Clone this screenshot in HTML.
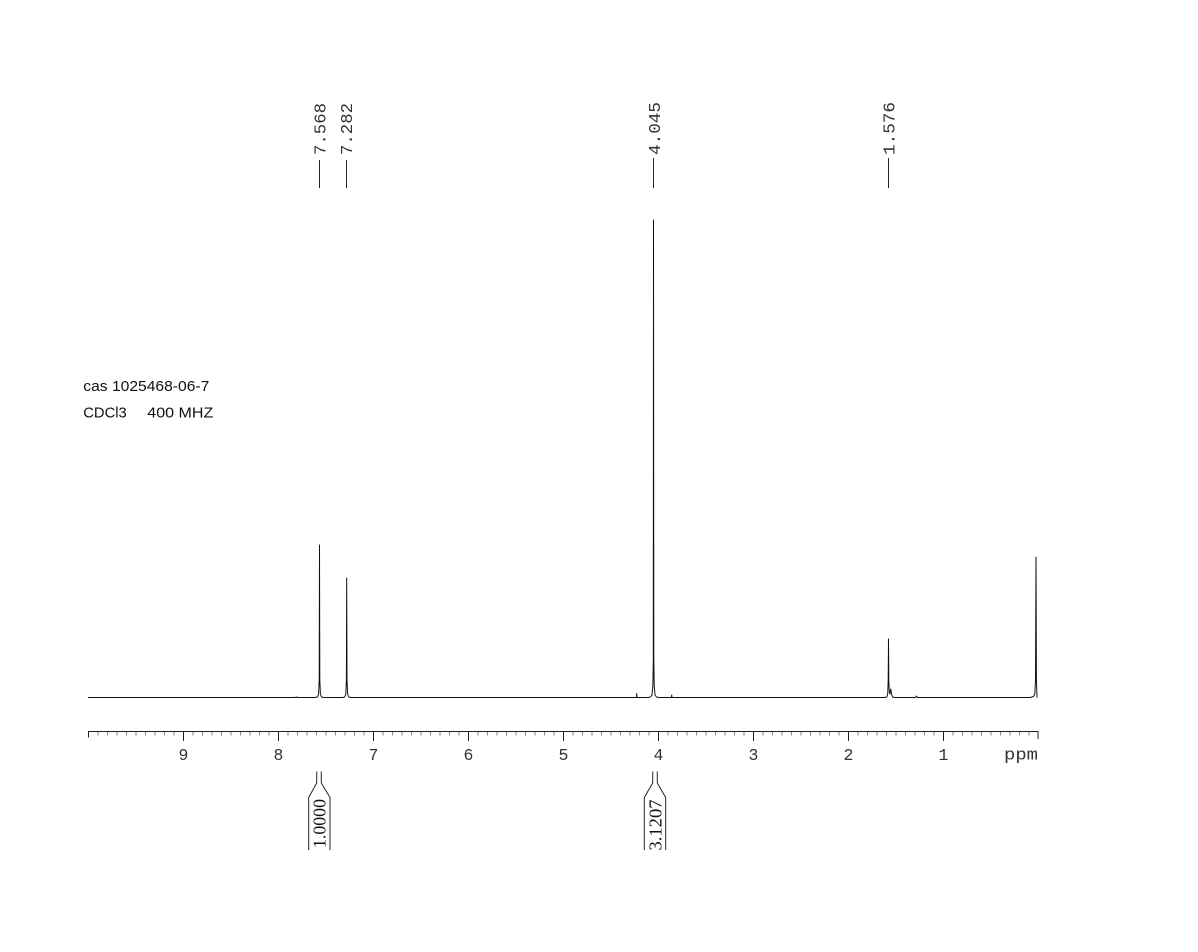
<!DOCTYPE html>
<html>
<head>
<meta charset="utf-8">
<style>
html,body{margin:0;padding:0;background:#fff;}
svg{display:block;}
.pl{font-family:"Liberation Mono",monospace;font-size:17px;fill:#333;}
.ax{font-family:"Liberation Mono",monospace;font-size:16.5px;fill:#333;}
.ig{font-family:"Liberation Serif",serif;font-size:18px;fill:#111;}
.tx{font-family:"Liberation Sans",sans-serif;font-size:15px;fill:#111;}
</style>
</head>
<body>
<svg width="1198" height="952" viewBox="0 0 1198 952" xmlns="http://www.w3.org/2000/svg">
<rect width="1198" height="952" fill="#fff"/>

<!-- peak labels -->
<g stroke="#222" stroke-width="1">
<line x1="319.5" y1="160" x2="319.5" y2="188"/>
<line x1="346.5" y1="160" x2="346.5" y2="188"/>
<line x1="653.5" y1="158" x2="653.5" y2="188"/>
<line x1="888.5" y1="158" x2="888.5" y2="188"/>
</g>
<text class="pl" transform="translate(325.5,155) rotate(-90)" textLength="52" lengthAdjust="spacingAndGlyphs">7.568</text>
<text class="pl" transform="translate(352,155) rotate(-90)" textLength="52" lengthAdjust="spacingAndGlyphs">7.282</text>
<text class="pl" transform="translate(660,155) rotate(-90)" textLength="53" lengthAdjust="spacingAndGlyphs">4.045</text>
<text class="pl" transform="translate(894.5,155) rotate(-90)" textLength="53" lengthAdjust="spacingAndGlyphs">1.576</text>

<!-- info text -->
<text class="tx" x="83.3" y="391" textLength="126" lengthAdjust="spacingAndGlyphs">cas 1025468-06-7</text>
<text class="tx" x="83.3" y="417.5" textLength="43.4" lengthAdjust="spacingAndGlyphs">CDCl3</text>
<text class="tx" x="147.3" y="417.5" textLength="66" lengthAdjust="spacingAndGlyphs">400 MHZ</text>

<!-- spectrum -->
<path fill="none" stroke="#111" stroke-width="1" stroke-linejoin="round" d="
M88,697.5 L295,697.5 L296.5,697 L297.5,697.5
L315,697.5 L317.5,697 L318.6,694 L319.2,680 L319.5,545 L319.8,680 L320.4,694 L321.5,697 L324,697.5
L342.5,697.5 L344.7,697 L345.8,694 L346.4,680 L346.7,578 L347,680 L347.6,694 L348.7,697 L351,697.5
L634,697.5 L636.5,697.5 L636.7,693.5 L637,697.5
L648,697.5 L650.5,697 L652,695 L652.9,685 L653.3,660 L653.5,220 L653.8,660 L654.2,685 L655,695 L656.5,697 L659,697.5
L671.4,697.5 L671.7,695 L672,697.5
L885,697.5 L886.8,697 L887.7,694 L888.2,680 L888.5,639 L888.8,680 L889.3,692 L890,694 L890.8,689 L891.5,694 L892.5,697 L895,697.5
L915.5,697.5 L916.5,696 L917.5,697.5
L1030,697.5 L1033.5,696.5 L1034.8,694 L1035.5,680 L1036,557 L1036.4,680 L1037,697.5"/>

<!-- axis -->
<g stroke="#222" stroke-width="1" fill="none">
<line x1="88" y1="731.5" x2="1038.5" y2="731.5"/>
<line x1="88.5" y1="731" x2="88.5" y2="737.5"/>
<line x1="1038" y1="731" x2="1038" y2="739"/>
<line x1="183.5" y1="731" x2="183.5" y2="741"/>
<line x1="278.5" y1="731" x2="278.5" y2="741"/>
<line x1="373.5" y1="731" x2="373.5" y2="741"/>
<line x1="468.5" y1="731" x2="468.5" y2="741"/>
<line x1="563.5" y1="731" x2="563.5" y2="741"/>
<line x1="658.5" y1="731" x2="658.5" y2="741"/>
<line x1="753.5" y1="731" x2="753.5" y2="741"/>
<line x1="848.5" y1="731" x2="848.5" y2="741"/>
<line x1="943.5" y1="731" x2="943.5" y2="741"/>
</g>
<path stroke="#888" stroke-width="1" fill="none" d="
M98,732V735.5 M107.5,732V735.5 M117,732V735.5 M126.5,732V735.5 M136,732V735.5 M145.5,732V735.5 M155,732V735.5 M164.5,732V735.5 M174,732V735.5
M193,732V735.5 M202.5,732V735.5 M212,732V735.5 M221.5,732V735.5 M231,732V735.5 M240.5,732V735.5 M250,732V735.5 M259.5,732V735.5 M269,732V735.5
M288,732V735.5 M297.5,732V735.5 M307,732V735.5 M316.5,732V735.5 M326,732V735.5 M335.5,732V735.5 M345,732V735.5 M354.5,732V735.5 M364,732V735.5
M383,732V735.5 M392.5,732V735.5 M402,732V735.5 M411.5,732V735.5 M421,732V735.5 M430.5,732V735.5 M440,732V735.5 M449.5,732V735.5 M459,732V735.5
M478,732V735.5 M487.5,732V735.5 M497,732V735.5 M506.5,732V735.5 M516,732V735.5 M525.5,732V735.5 M535,732V735.5 M544.5,732V735.5 M554,732V735.5
M573,732V735.5 M582.5,732V735.5 M592,732V735.5 M601.5,732V735.5 M611,732V735.5 M620.5,732V735.5 M630,732V735.5 M639.5,732V735.5 M649,732V735.5
M668,732V735.5 M677.5,732V735.5 M687,732V735.5 M696.5,732V735.5 M706,732V735.5 M715.5,732V735.5 M725,732V735.5 M734.5,732V735.5 M744,732V735.5
M763,732V735.5 M772.5,732V735.5 M782,732V735.5 M791.5,732V735.5 M801,732V735.5 M810.5,732V735.5 M820,732V735.5 M829.5,732V735.5 M839,732V735.5
M858,732V735.5 M867.5,732V735.5 M877,732V735.5 M886.5,732V735.5 M896,732V735.5 M905.5,732V735.5 M915,732V735.5 M924.5,732V735.5 M934,732V735.5
M953,732V735.5 M962.5,732V735.5 M972,732V735.5 M981.5,732V735.5 M991,732V735.5 M1000.5,732V735.5 M1010,732V735.5 M1019.5,732V735.5 M1029,732V735.5"/>

<g class="ax" text-anchor="middle">
<text x="183.5" y="760">9</text>
<text x="278.5" y="760">8</text>
<text x="373.5" y="760">7</text>
<text x="468.5" y="760">6</text>
<text x="563.5" y="760">5</text>
<text x="658.5" y="760">4</text>
<text x="753.5" y="760">3</text>
<text x="848.5" y="760">2</text>
<text x="943.5" y="760">1</text>
</g>
<text class="ax" x="1004" y="759.5" textLength="34" lengthAdjust="spacingAndGlyphs">ppm</text>

<!-- integrals -->
<g stroke="#222" stroke-width="1" fill="none">
<path d="M316.7,771.5V783L308.7,797.5V850 M321.3,771.5V783L330,797.5V850"/>
<path d="M652.7,771.5V783L644.3,797.5V850 M657.3,771.5V783L665.7,797.5V850"/>
</g>
<text class="ig" transform="translate(325.5,823.5) rotate(-90)" text-anchor="middle" textLength="49" lengthAdjust="spacingAndGlyphs">1.0000</text>
<text class="ig" transform="translate(661.5,825) rotate(-90)" text-anchor="middle" textLength="51" lengthAdjust="spacingAndGlyphs">3.1207</text>
</svg>
</body>
</html>
